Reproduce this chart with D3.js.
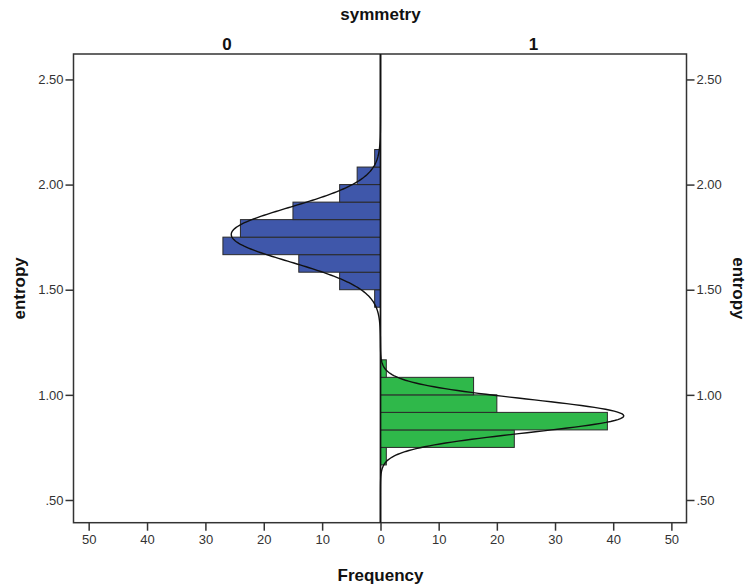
<!DOCTYPE html>
<html>
<head>
<meta charset="utf-8">
<script src="https://cdn.jsdelivr.net/npm/d3@7"></script>
<style>
  body { margin: 0; background: #fff; }
  svg { display: block; }
  .tick text { font-family: "Liberation Sans Narrow", "Liberation Sans", Arial, sans-serif; font-size: 13px; fill: #333; }
  .title { font-family: "Liberation Sans", Arial, sans-serif; font-weight: bold; fill: #111; }
</style>
</head>
<body>
<svg id="chart" width="749" height="588"></svg>
<script>
// ---- data ----
const groups = ["0", "1"];
const binStarts0 = [1.4167, 1.5, 1.5833, 1.6667, 1.75, 1.8333, 1.9167, 2.0, 2.0833];
const counts0    = [1, 7, 14, 27, 24, 15, 7, 4, 1];
const binStarts1 = [0.6667, 0.75, 0.8333, 0.9167, 1.0, 1.0833];
const counts1    = [1, 23, 39, 20, 16, 1];
const binWidth = 0.08333;
const normal0 = { n: 100, mean: 1.7625, sd: 0.130 };
const normal1 = { n: 100, mean: 0.900, sd: 0.0795 };
const yTicks = [0.5, 1.0, 1.5, 2.0, 2.5];
const xTicks = [0, 10, 20, 30, 40, 50];

// ---- layout ----
const svg = d3.select("#chart");
const L = 73.5, R = 686.5, T = 54, B = 522.7, C = 380.5;

const y = d3.scaleLinear().domain([0.392, 2.621]).range([B, T]);
const xLeft = d3.scaleLinear().domain([0, 52.6]).range([C, L]);
const xRight = d3.scaleLinear().domain([0, 52.6]).range([C, R]);

const blue = "#3F57AA", green = "#2FB84A";

const clip = svg.append("defs").append("clipPath").attr("id", "clip")
  .append("rect").attr("x", L).attr("y", T).attr("width", R - L).attr("height", B - T);

const plot = svg.append("g").attr("clip-path", "url(#clip)");

function drawBars(starts, counts, xs, color) {
  plot.append("g").selectAll("rect").data(starts.map((s, i) => ({ s, c: counts[i] })))
    .join("rect")
    .attr("x", d => Math.min(xs(0), xs(d.c)))
    .attr("width", d => Math.abs(xs(d.c) - xs(0)))
    .attr("y", d => y(d.s + binWidth))
    .attr("height", d => y(d.s) - y(d.s + binWidth))
    .attr("fill", color)
    .attr("stroke", "#2a2a2a")
    .attr("stroke-width", 1);
}
drawBars(binStarts0, counts0, xLeft, blue);
drawBars(binStarts1, counts1, xRight, green);

function curve(p, xs) {
  const ys = d3.range(0, 501).map(i => 0.392 + (2.621 - 0.392) * i / 500);
  const pts = ys.map(v => {
    const z = (v - p.mean) / p.sd;
    const f = p.n * binWidth * Math.exp(-0.5 * z * z) / (p.sd * Math.sqrt(2 * Math.PI));
    return [xs(f), y(v)];
  });
  plot.append("path").attr("d", d3.line()(pts))
    .attr("fill", "none").attr("stroke", "#111").attr("stroke-width", 1.4);
}
curve(normal0, xLeft);
curve(normal1, xRight);

// frame & divider
svg.append("rect").attr("x", L).attr("y", T).attr("width", R - L).attr("height", B - T)
  .attr("fill", "none").attr("stroke", "#333").attr("stroke-width", 1.5);
svg.append("line").attr("x1", C).attr("x2", C).attr("y1", T).attr("y2", B)
  .attr("stroke", "#111").attr("stroke-width", 1.4);

// axes
const fmtY = v => d3.format(".2f")(v).replace(/^0\./, ".");
const axL = svg.append("g").attr("transform", `translate(${L},0)`)
  .call(d3.axisLeft(y).tickValues(yTicks).tickFormat(fmtY).tickSize(8).tickPadding(2));
const axR = svg.append("g").attr("transform", `translate(${R},0)`)
  .call(d3.axisRight(y).tickValues(yTicks).tickFormat(fmtY).tickSize(8).tickPadding(2));
const axB0 = svg.append("g").attr("transform", `translate(0,${B})`)
  .call(d3.axisBottom(xLeft).tickValues(xTicks).tickSize(8).tickPadding(4));
const axB1 = svg.append("g").attr("transform", `translate(0,${B})`)
  .call(d3.axisBottom(xRight).tickValues(xTicks.slice(1)).tickSize(8).tickPadding(4));
[axL, axR, axB0, axB1].forEach(a => {
  a.select(".domain").remove();
  a.selectAll(".tick line").attr("stroke", "#333").attr("stroke-width", 1.5);
});

// titles
svg.append("text").attr("class", "title").attr("x", C).attr("y", 20)
  .attr("text-anchor", "middle").attr("font-size", 17).text("symmetry");
svg.append("text").attr("class", "title").attr("x", (L + C) / 2).attr("y", 50)
  .attr("text-anchor", "middle").attr("font-size", 17).text(groups[0]);
svg.append("text").attr("class", "title").attr("x", (C + R) / 2).attr("y", 50)
  .attr("text-anchor", "middle").attr("font-size", 17).text(groups[1]);
svg.append("text").attr("class", "title").attr("x", C).attr("y", 581)
  .attr("text-anchor", "middle").attr("font-size", 17).text("Frequency");
svg.append("text").attr("class", "title")
  .attr("transform", `translate(25,${(T + B) / 2}) rotate(-90)`)
  .attr("text-anchor", "middle").attr("font-size", 17).text("entropy");
svg.append("text").attr("class", "title")
  .attr("transform", `translate(733,${(T + B) / 2}) rotate(90)`)
  .attr("text-anchor", "middle").attr("font-size", 17).text("entropy");
</script>
</body>
</html>
